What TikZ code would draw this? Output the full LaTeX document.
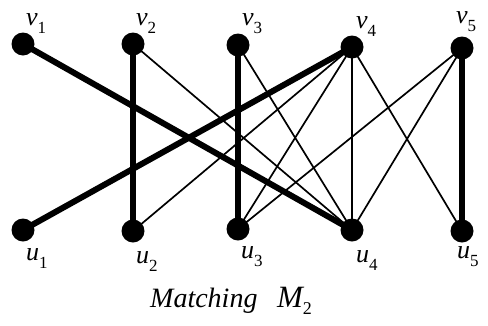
\documentclass[tikz,border=0pt]{standalone}
\usepackage{fontspec}
\setmainfont{Liberation Serif}
\newcommand\lbl[2]{\fontsize{26}{26}\selectfont\itshape #1\raisebox{-8pt}{\fontsize{17}{17}\selectfont\upshape #2}}
\tikzset{
  vert/.style={circle,fill=black,inner sep=0pt,minimum size=23pt},
  lab/.style={anchor=base west,inner sep=0pt},
  thinedge/.style={line width=1.7pt},
  thickedge/.style={line width=6pt}
}
\begin{document}
\begin{tikzpicture}[x=1pt,y=-1pt]
\useasboundingbox (0,0) rectangle (488,325);
\node[vert] (v1) at (23,44) {};
\node[vert] (v2) at (133,44) {};
\node[vert] (v3) at (238,45) {};
\node[vert] (v4) at (352,47) {};
\node[vert] (v5) at (462,48) {};
\node[vert] (u1) at (23,230) {};
\node[vert] (u2) at (133,231) {};
\node[vert] (u3) at (238,229) {};
\node[vert] (u4) at (352,230) {};
\node[vert] (u5) at (462,231) {};
% thin edges
\draw[thinedge] (v2.center) -- (u4.center);
\draw[thinedge] (v3.center) -- (u4.center);
\draw[thinedge] (v4.center) -- (u2.center);
\draw[thinedge] (v4.center) -- (u3.center);
\draw[thinedge] (v4.center) -- (u4.center);
\draw[thinedge] (v4.center) -- (u5.center);
\draw[thinedge] (v5.center) -- (u3.center);
\draw[thinedge] (v5.center) -- (u4.center);
% matching
\draw[thickedge] (v1.center) -- (u4.center);
\draw[thickedge] (v2.center) -- (u2.center);
\draw[thickedge] (v3.center) -- (u3.center);
\draw[thickedge] (v4.center) -- (u1.center);
\draw[thickedge] (v5.center) -- (u5.center);
% labels
\node[lab] (lv1) at (26,25) {\lbl{v}{1}};
\node[lab] (lv2) at (136,25) {\lbl{v}{2}};
\node[lab] (lv3) at (242,25) {\lbl{v}{3}};
\node[lab] (lv4) at (356,28) {\lbl{v}{4}};
\node[lab] (lv5) at (456,23) {\lbl{v}{5}};
\node[lab] (lu1) at (26,260) {\lbl{u}{1}};
\node[lab] (lu2) at (136,263) {\lbl{u}{2}};
\node[lab] (lu3) at (241,258) {\lbl{u}{3}};
\node[lab] (lu4) at (356,262) {\lbl{u}{4}};
\node[lab] (lu5) at (457,258) {\lbl{u}{5}};
\node[lab] (cap) at (150,307) {\fontsize{28}{28}\selectfont\itshape Matching\hspace{0.7em}{\fontsize{31}{31}\selectfont M}\raisebox{-7pt}{\fontsize{18}{18}\selectfont\upshape 2}};
\end{tikzpicture}
\end{document}
